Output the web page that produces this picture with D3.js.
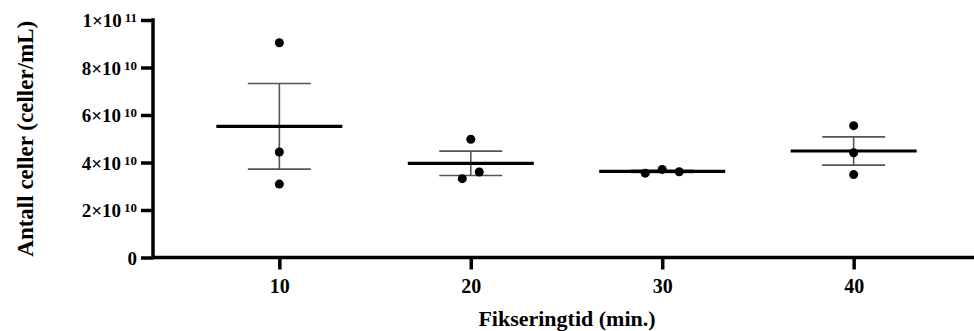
<!DOCTYPE html>
<html>
<head>
<meta charset="utf-8">
<script src="https://cdn.jsdelivr.net/npm/d3@7"></script>
<style>
  html, body { margin: 0; padding: 0; background: #fff; }
  svg { display: block; }
  svg text { font-family: 'Liberation Serif', 'Times New Roman', Times, serif !important; font-weight: bold; fill: #000; }
</style>
</head>
<body>
<svg id="chart" width="974" height="331"></svg>
<script>
// ---- Data ----
const categories = ["10", "20", "30", "40"];
const values10 = [9.04e10, 4.44e10, 3.09e10];
const values20 = [4.98e10, 3.32e10, 3.60e10];
const values30 = [3.55e10, 3.71e10, 3.61e10];
const values40 = [5.55e10, 4.41e10, 3.49e10];
const seriesValues = [values10, values20, values30, values40];

const yTickValues = [0, 2e10, 4e10, 6e10, 8e10, 1e11];
const yTickMantissa = ["0", "2×10", "4×10", "6×10", "8×10", "1×10"];
const yTickExponent = ["", "10", "10", "10", "10", "11"];

const xTitle = "Fikseringtid (min.)";
const yTitle = "Antall celler (celler/mL)";

// ---- Layout ----
const W = 974, H = 331;
const axisX = 153, axisY = 257.5, topY = 20;
const FONT = "'Liberation Serif', 'Times New Roman', Times, serif";
const svg = d3.select("#chart");

const x = d3.scalePoint().domain(categories).range([153, 980]).padding(0.66);
const y = d3.scaleLinear().domain([0, 1e11]).range([axisY, topY]);

const r = 4.5;
const dodge = 17;
const meanHalf = 63, capHalf = 31.5;

// ---- Axes ----
const yAxis = d3.axisLeft(y).tickValues(yTickValues).tickSize(12).tickSizeOuter(0).tickFormat("");
const gy = svg.append("g").attr("transform", `translate(${axisX},0)`).call(yAxis);
gy.select(".domain").remove();
gy.selectAll(".tick line").attr("stroke", "#000").attr("stroke-width", 3.5);

svg.append("line")
  .attr("x1", axisX).attr("x2", axisX)
  .attr("y1", y(1e11) - 1.75).attr("y2", axisY + 1.75)
  .attr("stroke", "#000").attr("stroke-width", 3.5);

// y tick labels with superscript exponents
const yl = svg.append("g");
yTickValues.forEach((v, i) => {
  const t = yl.append("text")
    .attr("x", axisX - 16)
    .attr("y", y(v) + 7)
    .attr("text-anchor", "end")
    .attr("font-family", FONT)
    .style("font-size", "19px");
  t.append("tspan").text(yTickMantissa[i]);
  if (yTickExponent[i]) {
    t.append("tspan").attr("dx", 3).attr("dy", -5).style("font-size", "13px").text(yTickExponent[i]);
  }
});

const xAxis = d3.axisBottom(x).tickSize(12).tickSizeOuter(0);
const gx = svg.append("g").attr("transform", `translate(0,${axisY})`).call(xAxis);
gx.attr("font-family", FONT);
gx.select(".domain").remove();
gx.selectAll(".tick line").attr("stroke", "#000").attr("stroke-width", 3.5);
gx.selectAll(".tick text")
  .attr("y", 35.5).attr("dy", 0)
  .style("font-size", "20px")
  .attr("fill", "#000");

svg.append("line")
  .attr("x1", axisX).attr("x2", W)
  .attr("y1", axisY).attr("y2", axisY)
  .attr("stroke", "#000").attr("stroke-width", 3.5);

// ---- Titles ----
svg.append("text")
  .attr("transform", `translate(33,${(topY + axisY) / 2}) rotate(-90)`)
  .attr("text-anchor", "middle")
  .attr("font-family", FONT)
  .style("font-size", "23px")
  .text(yTitle);

svg.append("text")
  .attr("x", 567).attr("y", 326)
  .attr("text-anchor", "middle")
  .attr("font-family", FONT)
  .style("font-size", "22px")
  .text(xTitle);

// ---- Marks ----
const plot = svg.append("g");
categories.forEach((cat, ci) => {
  const vals = seriesValues[ci];
  const cx = x(cat);
  const m = d3.mean(vals);
  const sem = d3.deviation(vals) / Math.sqrt(vals.length);

  const eb = plot.append("g").attr("stroke", "#555").attr("stroke-width", 1.6).attr("fill", "none");
  eb.append("line").attr("x1", cx).attr("x2", cx).attr("y1", y(m + sem)).attr("y2", y(m - sem));
  eb.append("line").attr("x1", cx - capHalf).attr("x2", cx + capHalf).attr("y1", y(m + sem)).attr("y2", y(m + sem));
  eb.append("line").attr("x1", cx - capHalf).attr("x2", cx + capHalf).attr("y1", y(m - sem)).attr("y2", y(m - sem));

  plot.append("line")
    .attr("x1", cx - meanHalf).attr("x2", cx + meanHalf)
    .attr("y1", y(m)).attr("y2", y(m))
    .attr("stroke", "#000").attr("stroke-width", 3.2);

  const pts = vals.map((v, i) => ({ v, i, py: y(v) }));
  const sorted = pts.slice().sort((a, b) => a.py - b.py);
  const clusters = [];
  sorted.forEach(p => {
    const last = clusters[clusters.length - 1];
    if (last && p.py - last[last.length - 1].py < 2 * r + 1) last.push(p);
    else clusters.push([p]);
  });
  clusters.forEach(cl => {
    cl.sort((a, b) => a.i - b.i);
    cl.forEach((p, k) => { p.dx = (k - (cl.length - 1) / 2) * dodge; });
  });

  plot.selectAll(null).data(pts).enter().append("circle")
    .attr("cx", d => cx + d.dx)
    .attr("cy", d => d.py)
    .attr("r", r)
    .attr("fill", "#000");
});
</script>
</body>
</html>
